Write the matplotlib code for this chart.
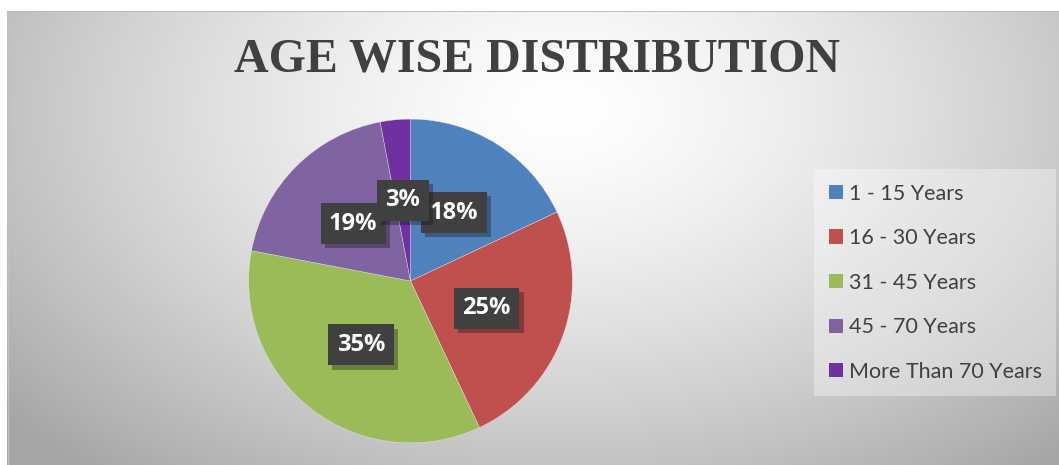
import numpy as np
import matplotlib
matplotlib.use("Agg")
import matplotlib.pyplot as plt
import matplotlib.patheffects as pe

# ---- data ----
categories = ["1 - 15 Years", "16 - 30 Years", "31 - 45 Years", "45 - 70 Years", "More Than 70 Years"]
shares = [18, 25, 35, 19, 3]
colors = ["#4F81BD", "#C0504D", "#9BBB59", "#8064A2", "#7030A0"]
title = "AGE WISE DISTRIBUTION"

W, H = 1059, 465
fig = plt.figure(figsize=(W / 100, H / 100), dpi=100)
fig.patch.set_facecolor("white")

# ---- background gradient (chart area) ----
x0, y0top = 7, 11
bg = fig.add_axes([x0 / W, 0, (W - x0) / W, (H - y0top) / H])
gx = np.arange(x0, W)
gy = np.arange(y0top, H)
XX, YY = np.meshgrid(gx, gy)
r = np.sqrt(((XX - 560) / 560.0) ** 2 + ((YY - 110) / 360.0) ** 2)
val = 1.0 - 0.24 * np.clip(r, 0, 1.3) ** 1.4
img = np.dstack([val, val, val])
bg.imshow(img, aspect="auto", extent=[0, 1, 0, 1], interpolation="bilinear")
bg.set_xlim(0, 1)
bg.set_ylim(0, 1)
bg.set_axis_off()
bg.plot([0, 1], [0.999, 0.999], color="#b5b5b5", lw=1.2)
bg.plot([0.0005, 0.0005], [0, 1], color="#c0c0c0", lw=1.0)

# ---- pie ----
cx, cy, half = 410.5, H - 281, 170
ax = fig.add_axes([(cx - half) / W, (cy - half) / H, 2 * half / W, 2 * half / H])
wedges, texts, autotexts = ax.pie(
    shares, colors=colors, startangle=90, counterclock=False,
    autopct=lambda p: f"{p:.0f}%", pctdistance=0.5, radius=1.0,
    wedgeprops=dict(edgecolor="#eeeeee", linewidth=0.25),
    textprops=dict(color="white", fontsize=17, fontweight="bold", family=["Open Sans", "DejaVu Sans"]),
)
ax.set_xlim(-1.05, 1.05)
ax.set_ylim(-1.05, 1.05)
ax.set_aspect("equal")
ax.set_axis_off()
for t in autotexts:
    t.set_bbox(dict(boxstyle="square,pad=0.36", facecolor="#404040", edgecolor="none"))
    t.get_bbox_patch().set_path_effects([pe.SimplePatchShadow(offset=(3, -3), alpha=0.35), pe.Normal()])
    t.set_zorder(5)

# ---- title ----
fig.text(537.5 / W, 1 - 60 / H, title, ha="center", va="center",
         fontsize=34.5, fontweight="bold", family=["Liberation Serif", "DejaVu Serif"], color="#404040")

# ---- legend ----
leg = fig.legend(wedges, categories, loc="upper left",
                 bbox_to_anchor=(814 / W, 1 - 169 / H),
                 frameon=True, fancybox=False, framealpha=0.35, facecolor="white", edgecolor="none",
                 prop=dict(family=["Lato", "DejaVu Sans"], size=15.5),
                 handlelength=0.65, handleheight=0.65, handletextpad=0.28,
                 labelspacing=1.14, borderpad=0.68, borderaxespad=0)
for txt in leg.get_texts():
    txt.set_color("#404040")
for h in leg.legend_handles:
    h.set_edgecolor("none")

fig.savefig("out.png", dpi=100)
